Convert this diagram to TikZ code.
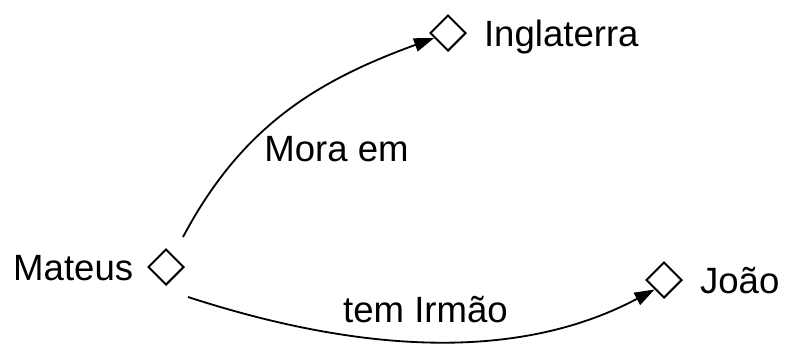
\documentclass[tikz,border=0pt]{standalone}
\usepackage{fontspec}
\setmainfont{Liberation Sans}
\usetikzlibrary{arrows.meta,positioning,shapes.geometric}

\begin{document}
\begin{tikzpicture}[x=0.025cm,y=-0.025cm,
	diam/.style={draw,diamond,line width=1.4pt,minimum width=0.9cm,minimum height=0.9cm,inner sep=0pt},
	lbl/.style={inner sep=0pt,font=\fontsize{26}{31}\selectfont,text height=18.6pt,text depth=0pt},
	rel/.style={-{Triangle[length=0.5cm,width=0.34cm]},line width=1.3pt}]
	
	\useasboundingbox (0,0) rectangle (787,344);
	
	%---------------- Entities ----------------%
	
	\node[diam] (mat) at (166,267) {};
	\node[diam] (ing) at (448,33) {};
	\node[diam] (joa) at (664,280) {};
	
	\node[lbl,left=0.34cm of mat] (matlbl) {Mateus};
	\node[lbl,right=0.42cm of ing] (inglbl) {Inglaterra};
	\node[lbl,right=0.42cm of joa] (joalbl) {João};
	
	%---------------- Relations ----------------%
	
	\draw[rel] ([shift={(17,-30)}]mat.center) to[out=62,in=200]
	node[lbl,pos=0.5,shift={(50,36)}]{Mora em} (ing);
	
	\draw[rel] ([shift={(22,30)}]mat.center) to[out=-18,in=208,looseness=0.9]
	node[lbl,pos=0.5,above=0.45cm]{tem Irmão} (joa.south west);
	
\end{tikzpicture}
\end{document}
